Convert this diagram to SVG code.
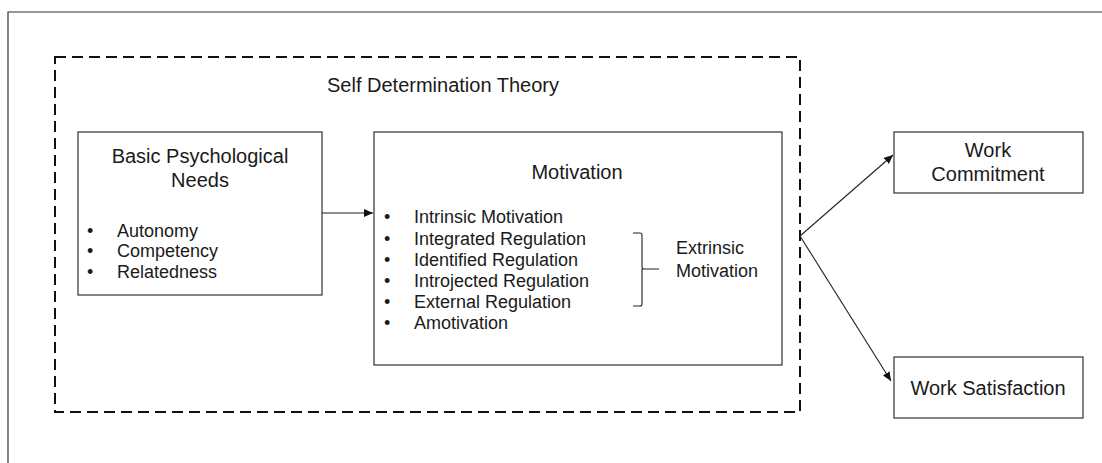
<svg xmlns="http://www.w3.org/2000/svg" width="1102" height="463" viewBox="0 0 1102 463">
<style>
text{font-family:"Liberation Sans",Arial,sans-serif;fill:#1a1a1a}
.t{font-size:20px}
.b{font-size:18px}
.box{fill:#fff;stroke:#333;stroke-width:1.2}
.ln{fill:none;stroke:#222;stroke-width:1.1}
</style>
<defs>
<marker id="ah" markerWidth="10" markerHeight="8" refX="9" refY="4" orient="auto" markerUnits="userSpaceOnUse">
<path d="M0,0 L9,4 L0,8 Z" fill="#111"/>
</marker>
</defs>
<rect width="1102" height="463" fill="#fff"/>
<path d="M8,463 V12 H1102" fill="none" stroke="#333" stroke-width="1.2"/>
<g id="sdt">
<rect x="55" y="57" width="745" height="355" fill="none" stroke="#111" stroke-width="2" stroke-dasharray="11,6"/>
<text class="t" x="443" y="92" text-anchor="middle">Self Determination Theory</text>
</g>
<g id="needs">
<rect class="box" x="78" y="132" width="244" height="163"/>
<text class="t" x="200" y="163" text-anchor="middle">Basic Psychological</text>
<text class="t" x="200" y="187" text-anchor="middle">Needs</text>
<g class="b">
<text x="87" y="237">•</text><text x="117" y="237">Autonomy</text>
<text x="87" y="257">•</text><text x="117" y="257">Competency</text>
<text x="87" y="278">•</text><text x="117" y="278">Relatedness</text>
</g>
</g>
<g id="motivation">
<rect class="box" x="374" y="132" width="408" height="233"/>
<text class="t" x="577" y="179" text-anchor="middle">Motivation</text>
<g class="b">
<text x="384" y="223">•</text><text x="414" y="223">Intrinsic Motivation</text>
<text x="384" y="245">•</text><text x="414" y="245">Integrated Regulation</text>
<text x="384" y="266">•</text><text x="414" y="266">Identified Regulation</text>
<text x="384" y="287">•</text><text x="414" y="287">Introjected Regulation</text>
<text x="384" y="308">•</text><text x="414" y="308">External Regulation</text>
<text x="384" y="329">•</text><text x="414" y="329">Amotivation</text>
</g>
<path class="ln" d="M633,233 H640 Q642,233 642,235 V267 Q642,269 644,269 H659 M642,269 V304 Q642,306 640,306 H633" stroke-width="1.6"/>
<text class="b" x="676" y="254">Extrinsic</text>
<text class="b" x="676" y="277">Motivation</text>
</g>
<g id="commitment">
<rect class="box" x="894" y="132" width="189" height="61"/>
<text class="t" x="988" y="157" text-anchor="middle">Work</text>
<text class="t" x="988" y="181" text-anchor="middle">Commitment</text>
</g>
<g id="satisfaction">
<rect class="box" x="894" y="357" width="189" height="61"/>
<text class="t" x="988" y="395" text-anchor="middle">Work Satisfaction</text>
</g>
<g id="connectors">
<line class="ln" x1="322" y1="213" x2="373" y2="213" marker-end="url(#ah)"/>
<line class="ln" x1="800" y1="236" x2="893" y2="155" marker-end="url(#ah)"/>
<line class="ln" x1="800" y1="236" x2="891" y2="381" marker-end="url(#ah)"/>
</g>
</svg>
